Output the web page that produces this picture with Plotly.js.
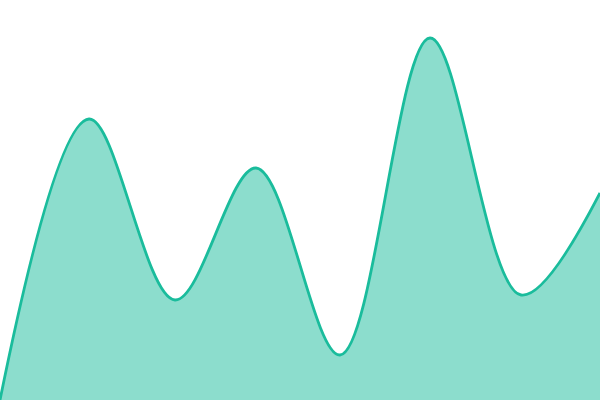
<!DOCTYPE html>
<html>
<head>
<meta charset="utf-8">
<script src="https://cdn.plot.ly/plotly-3.0.1.min.js"></script>
<style>
  html, body { margin: 0; padding: 0; background: #fff; }
  #chart { width: 600px; height: 400px; }
</style>
</head>
<body>
<div id="chart"></div>
<script>
// where each peak / trough sits across the chart (0 = left edge, 600 = right edge)
var steps = [0, 89, 175, 256, 340, 430, 521, 600];
// heights (0 = bottom edge, 400 = top edge)
var values = [0, 281, 100, 232, 45, 362, 105, 207];

var lineColor = "#1abc9c";
var fillColor = "rgba(26, 188, 156, 0.5)";

Plotly.newPlot("chart", [{
    x: steps,
    y: values,
    type: "scatter",
    mode: "lines",
    fill: "tozeroy",
    fillcolor: fillColor,
    line: {
        color: lineColor,
        width: 2.8,
        shape: "spline",
        smoothing: 1
    },
    hoverinfo: "none"
}], {
    width: 600,
    height: 400,
    margin: {l: 0, r: 0, t: 0, b: 0},
    paper_bgcolor: "#fff",
    plot_bgcolor: "#fff",
    showlegend: false,
    xaxis: {
        range: [0, 600],
        visible: false,
        fixedrange: true
    },
    yaxis: {
        range: [0, 400],
        visible: false,
        fixedrange: true
    }
}, {
    displayModeBar: false,
    staticPlot: true
});
</script>
</body>
</html>
